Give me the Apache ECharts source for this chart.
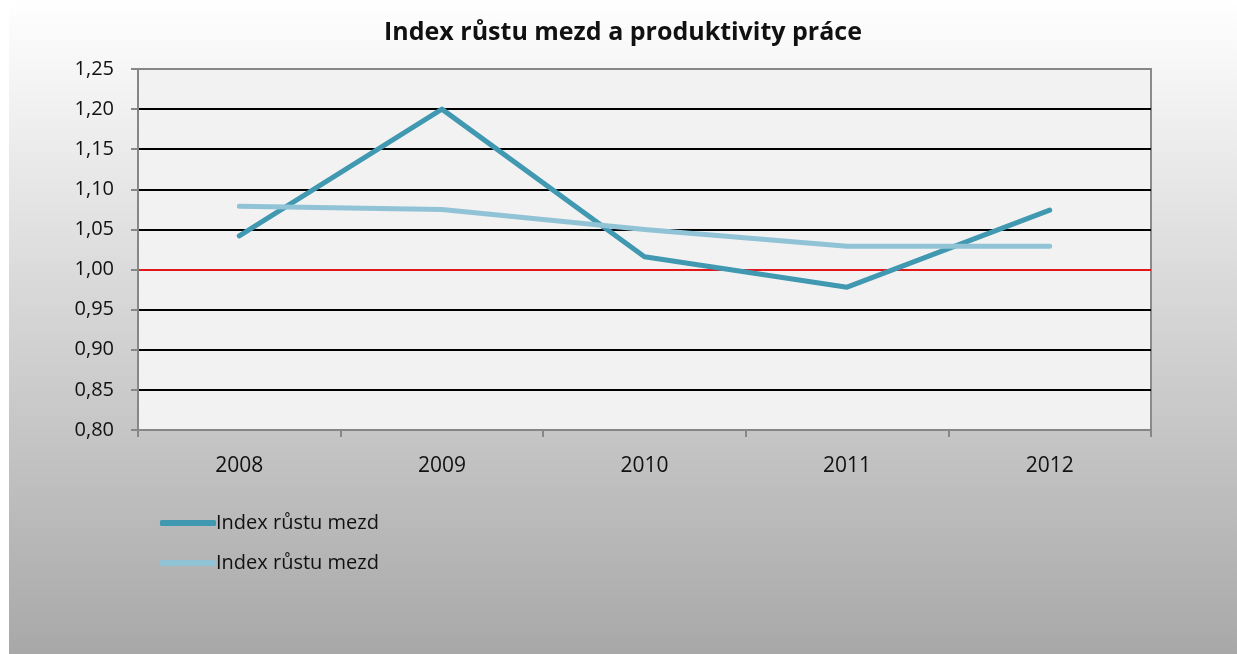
<!DOCTYPE html>
<html>
<head>
<meta charset="utf-8">
<script src="https://cdn.jsdelivr.net/npm/echarts@6/dist/echarts.min.js"></script>
<style>
  html, body { margin: 0; padding: 0; background: #ffffff; }
  #chart { position: absolute; left: 9px; top: 0; width: 1228px; height: 654px; }
</style>
</head>
<body>
<div id="chart"></div>
<script>
// data
const years = ['2008', '2009', '2010', '2011', '2012']
const mzdy = [1.042, 1.200, 1.016, 0.978, 1.074]
const produktivita = [1.079, 1.075, 1.050, 1.029, 1.029]
const seriesNames = ['Index růstu mezd', 'Index růstu mezd']

const FONT = '"Open Sans", Lato, sans-serif'

const chart = echarts.init(document.getElementById('chart'))

// split line colours from 0,80 up to 1,25 - the 1,00 line is red
const splitColors = ['#868686', '#000', '#000', '#000', '#e3161b', '#000', '#000', '#000', '#000', '#868686']

chart.setOption({
  backgroundColor: {
    type: 'linear', x: 0, y: 0, x2: 0, y2: 1,
    colorStops: [
      { offset: 0, color: '#ffffff' },
      { offset: 1, color: '#a8a8a8' },
    ],
  },
  textStyle: { fontFamily: FONT },
  title: {
    text: 'Index růstu mezd a produktivity práce',
    left: 'center',
    top: 15,
    textStyle: { fontFamily: FONT, fontSize: 25, fontWeight: 'bold', color: '#111' },
  },
  legend: {
    orient: 'vertical',
    left: 146,
    top: 508,
    itemGap: 20,
    itemWidth: 56,
    itemHeight: 6,
    icon: 'roundRect',
    textStyle: { fontFamily: FONT, fontSize: 20, color: '#111', padding: [0, 0, 0, -5] },
    data: [
      { name: seriesNames[0] },
      { name: seriesNames[1] + ' ' },
    ],
  },
  grid: {
    left: 129,
    right: 86,
    top: 69,
    bottom: 224,
    show: true,
    backgroundColor: '#f2f2f2',
    borderColor: '#8a8a8a',
    borderWidth: 2,
  },
  xAxis: {
    type: 'category',
    data: years,
    boundaryGap: true,
    axisLine: { lineStyle: { color: '#868686', width: 2 } },
    axisTick: { show: true, length: 7, lineStyle: { color: '#868686', width: 2 } },
    axisLabel: { margin: 26, fontSize: 21, color: '#111', fontFamily: FONT },
  },
  yAxis: {
    type: 'value',
    min: 0.8,
    max: 1.25,
    interval: 0.05,
    axisLine: { show: true, lineStyle: { color: '#868686', width: 2 } },
    axisTick: { show: true, length: 7, lineStyle: { color: '#868686', width: 2 } },
    axisLabel: {
      margin: 24,
      fontSize: 20,
      color: '#111',
      fontFamily: FONT,
      formatter: (v) => v.toFixed(2).replace('.', ','),
    },
    splitLine: { show: true, lineStyle: { color: splitColors, width: 2 } },
  },
  series: [
    {
      name: seriesNames[0],
      type: 'line',
      data: mzdy,
      symbol: 'none',
      itemStyle: { color: '#4098b1' },
      lineStyle: { color: '#4098b1', width: 5, cap: 'round', join: 'round' },
      z: 3,
    },
    {
      name: seriesNames[1] + ' ',
      type: 'line',
      data: produktivita,
      symbol: 'none',
      itemStyle: { color: '#90c3d6' },
      lineStyle: { color: '#90c3d6', width: 5, cap: 'round', join: 'round' },
      z: 4,
    },
  ],
})
</script>
</body>
</html>
